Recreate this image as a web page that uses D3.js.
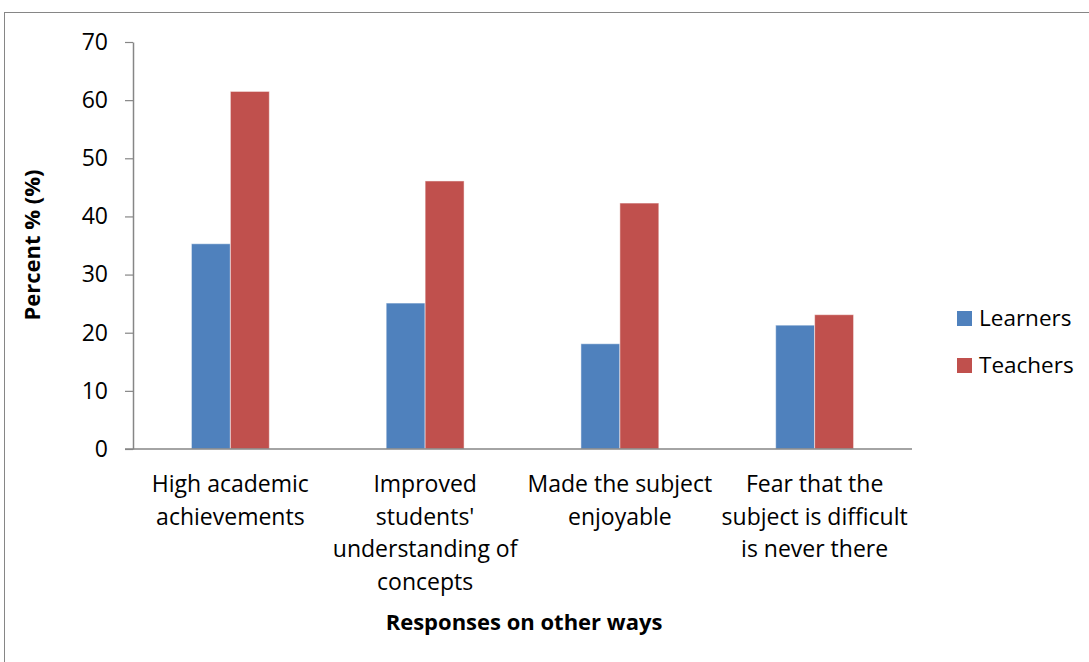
<!DOCTYPE html>
<html>
<head>
<meta charset="utf-8">
<script src="https://cdn.jsdelivr.net/npm/d3@7/dist/d3.min.js"></script>
<style>
  html, body { margin: 0; padding: 0; background: #fff; }
  svg { display: block; }
  text { font-family: "Open Sans", "Noto Sans", sans-serif; fill: #000; }
</style>
</head>
<body>
<svg id="chart" width="1089" height="662"></svg>
<script>
// Response categories (each label split into display lines)
const categories = [
  ["High academic", "achievements"],
  ["Improved", "students'", "understanding of", "concepts"],
  ["Made the subject", "enjoyable"],
  ["Fear that the", "subject is difficult", "is never there"]
];
const seriesNames = ["Learners", "Teachers"];
const learners = [35.3, 25.1, 18.1, 21.3];
const teachers = [61.5, 46.1, 42.3, 23.1];
const yTicks = [0, 10, 20, 30, 40, 50, 60, 70];
const colors = ["#4F81BD", "#C0504D"];

const svg = d3.select("#chart");

// outer chart border
svg.append("rect")
  .attr("x", 4.5).attr("y", 12.5)
  .attr("width", 1100).attr("height", 700)
  .attr("fill", "none").attr("stroke", "#868686").attr("stroke-width", 1);

const plot = { left: 133, right: 912, top: 42, bottom: 449 };

const x = d3.scaleBand()
  .domain(d3.range(categories.length))
  .range([plot.left, plot.right])
  .paddingInner(0.6).paddingOuter(0.3);

const xSub = d3.scaleBand()
  .domain(seriesNames)
  .range([0, x.bandwidth()]);

const y = d3.scaleLinear().domain([0, 70]).range([plot.bottom, plot.top]);

// bars
const values = [learners, teachers];
const g = svg.append("g");
categories.forEach((c, i) => {
  seriesNames.forEach((s, k) => {
    g.append("rect")
      .attr("x", x(i) + xSub(s))
      .attr("y", y(values[k][i]))
      .attr("width", xSub.bandwidth())
      .attr("height", y(0) - y(values[k][i]))
      .attr("fill", colors[k])
      .attr("stroke", "rgba(255,255,255,0.5)")
      .attr("stroke-width", 1);
  });
});

// y axis
const yAxis = svg.append("g")
  .attr("transform", `translate(${plot.left},0)`)
  .call(d3.axisLeft(y).tickValues(yTicks).tickSize(8).tickSizeOuter(0).tickPadding(17));
yAxis.select(".domain").attr("stroke", "#868686").attr("stroke-width", 1.5);
yAxis.selectAll(".tick line").attr("stroke", "#868686").attr("stroke-width", 1.2);
yAxis.selectAll(".tick text")
  .style("font-size", "23px")
  .style("font-family", '"Open Sans", "Noto Sans", sans-serif')
  .attr("fill", "#000");

// x axis baseline
svg.append("line")
  .attr("x1", plot.left - 8).attr("x2", plot.right)
  .attr("y1", y(0)).attr("y2", y(0))
  .attr("stroke", "#868686").attr("stroke-width", 1.5);

// category labels
categories.forEach((lines, i) => {
  const t = svg.append("text")
    .attr("text-anchor", "middle")
    .style("font-size", "23px");
  lines.forEach((ln, j) => {
    t.append("tspan")
      .attr("x", x(i) + x.bandwidth() / 2)
      .attr("y", 492 + j * 32.7)
      .text(ln);
  });
});

// axis titles
svg.append("text")
  .attr("transform", `translate(40,245) rotate(-90)`)
  .attr("text-anchor", "middle")
  .style("font-size", "22px").style("font-weight", "bold")
  .text("Percent % (%)");

svg.append("text")
  .attr("x", 524).attr("y", 630)
  .attr("text-anchor", "middle")
  .style("font-size", "22px").style("font-weight", "bold")
  .text("Responses on other ways");

// legend
seriesNames.forEach((s, k) => {
  const ly = 311 + k * 47;
  svg.append("rect")
    .attr("x", 957).attr("y", ly)
    .attr("width", 15).attr("height", 15)
    .attr("fill", colors[k]);
  svg.append("text")
    .attr("x", 979).attr("y", ly + 15)
    .style("font-size", "22.5px")
    .text(s);
});
</script>
</body>
</html>
